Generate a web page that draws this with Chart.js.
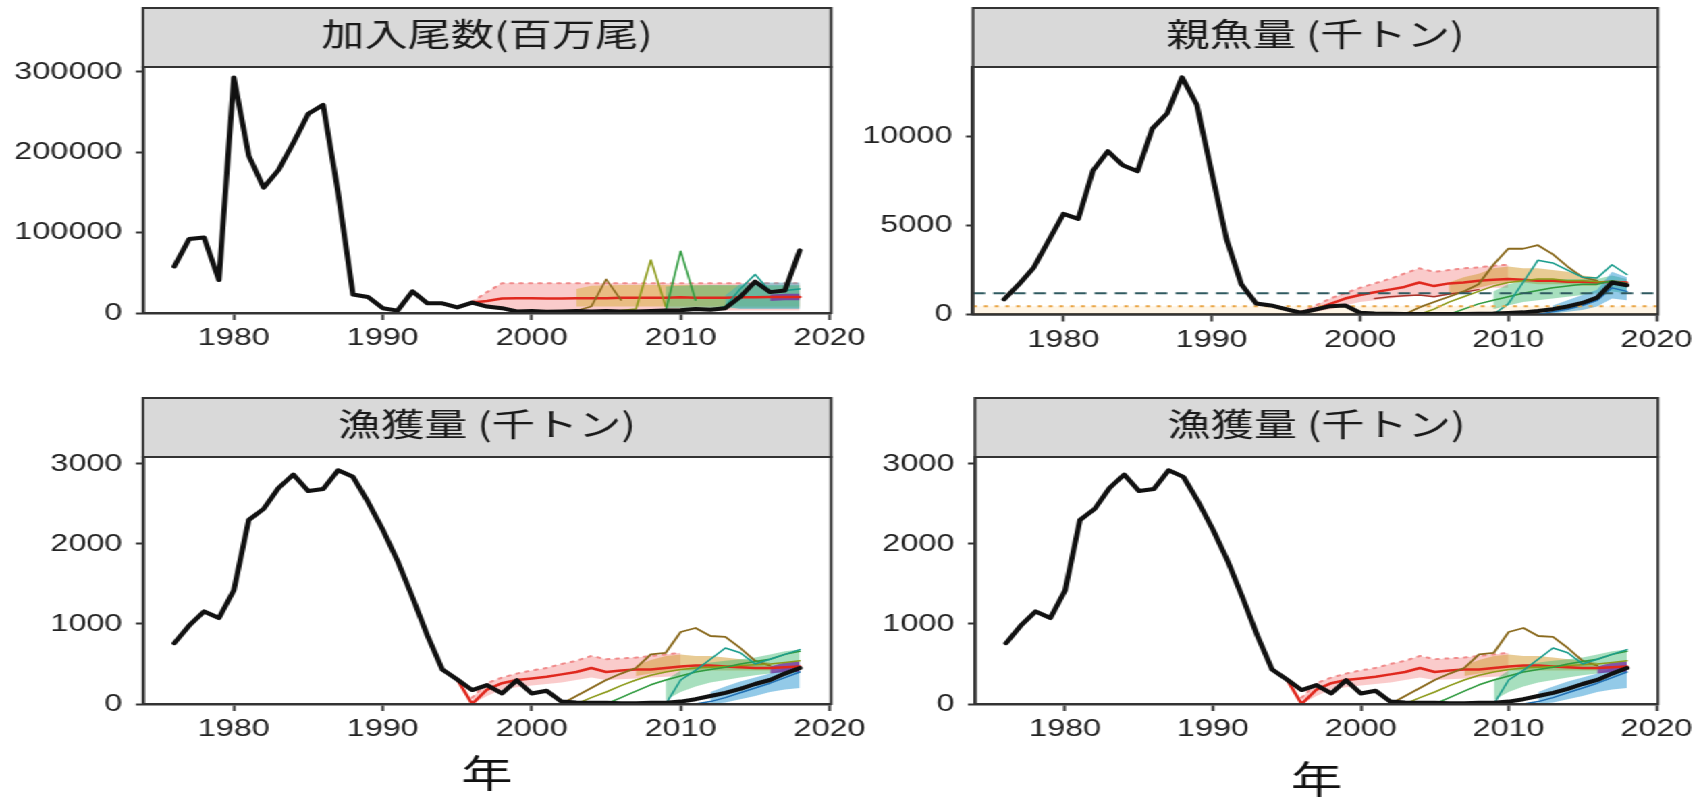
<!DOCTYPE html>
<html><head><meta charset="utf-8">
<script src="https://cdn.jsdelivr.net/npm/chart.js@4.4.1/dist/chart.umd.min.js"></script>
<style>
html,body{margin:0;padding:0;background:#fff;overflow:hidden;}
#wrap{position:absolute;left:0;top:0;width:1262px;height:798px;transform:scaleX(1.35);transform-origin:0 0;}
canvas{position:absolute;}
</style></head><body>
<div id="wrap">
<canvas id="c1" width="660" height="390" style="left:0px;top:0px;width:660px;height:390px"></canvas>
<canvas id="c2" width="641" height="390" style="left:620px;top:0px;width:641px;height:390px"></canvas>
<canvas id="c3" width="660" height="408" style="left:0px;top:390px;width:660px;height:408px"></canvas>
<canvas id="c4" width="641" height="408" style="left:620px;top:390px;width:641px;height:408px"></canvas>
</div>
<script>
// ---------- data ----------
const years = [1976,1977,1978,1979,1980,1981,1982,1983,1984,1985,1986,1987,1988,1989,1990,1991,1992,1993,1994,1995,1996,1997,1998,1999,2000,2001,2002,2003,2004,2005,2006,2007,2008,2009,2010,2011,2012,2013,2014,2015,2016,2017,2018];
const recruitment = [58000,92000,94000,41000,293000,196000,156000,178000,212000,248000,259000,150000,23000,20000,6000,3000,27000,12000,12000,7000,13000,8000,6000,2000,2500,1500,2000,2500,2000,2500,2000,2000,2500,3000,3500,5000,4000,6000,20000,39000,26000,28000,78000];
const ssb = [850,1700,2640,4150,5660,5380,8110,9190,8400,8060,10470,11320,13350,11800,8000,4250,1700,620,510,300,100,280,470,510,100,60,40,30,30,30,30,30,40,50,80,120,200,300,450,650,950,1800,1650];
const catchData = [760,980,1157,1074,1421,2300,2438,2700,2868,2661,2686,2921,2839,2529,2178,1785,1331,855,430,306,174,236,132,298,132,165,30,20,15,15,10,10,15,15,30,60,100,140,190,250,300,380,450];

const panelTitles = ['加入尾数(百万尾)', '親魚量 (千トン)', '漁獲量 (千トン)', '漁獲量 (千トン)'];
const xAxisTitle = '年';
const xTicks = [1980,1990,2000,2010,2020];
const recTicks = [0,100000,200000,300000];
const ssbTicks = [0,5000,10000];
const catchTicks = [0,1000,2000,3000];

// recruitment projections
const recRedYears = [1996,1997,1998,1999,2000,2001,2002,2003,2004,2005,2006,2007,2008,2009,2010,2011,2012,2013,2014,2015,2016,2017,2018];
const recRed = [13000,15000,18000,18500,18500,18000,18000,18500,18500,18500,19000,19000,19000,19000,19500,19000,19000,19000,19500,19500,20000,20000,20000];
const recPinkYears = [1996,1997,1998,1999,2018];
const recPinkLo = [12000,6000,4000,3000,3000];
const recPinkHi = [14000,26000,37000,37000,37000];
const recOrangeYears = [2003,2004,2006,2010,2014,2018];
const recOrangeLo = [8000,8000,8000,8000,8000,8000];
const recOrangeHi = [30000,34000,35000,35000,34000,34000];
const recGreenYears = [2009,2010,2012,2015,2018];
const recGreenLo = [6000,6000,6000,6000,6000];
const recGreenHi = [33000,34000,35000,35000,35000];
const recTealYears = [2013,2014,2015,2016,2017,2018];
const recTealLo = [8000,5000,5000,5000,5000,5000];
const recTealHi = [22000,36000,38000,38000,38000,38000];
const recPurpleYears = [2016,2017,2018];
const recPurpleLo = [15000,16000,16000];
const recPurpleHi = [23000,24000,24000];
const recBrownYears = [2002,2003,2004,2005,2006];
const recBrown = [2000,3000,8000,42000,16000];
const recOliveYears = [2006,2007,2008,2009];
const recOlive = [3000,5000,66000,8000];
const recGreenLineYears = [2008,2009,2010,2011];
const recGreenLine = [2500,3000,77000,16000];
const recTealLineYears = [2012,2013,2014,2015,2016,2017,2018];
const recTealLine = [4000,8000,30000,48000,27000,28000,30000];

// SSB projections
const ssbRedYears = [1995,1996,1997,1998,1999,2000,2001,2002,2003,2004,2005,2006,2007,2008,2009,2010,2011,2012,2013,2014,2015,2016,2017,2018];
const ssbRed = [300,100,300,600,900,1100,1250,1400,1550,1800,1600,1750,1800,1900,1950,2000,1950,1900,1900,1850,1850,1800,1850,1800];
const ssbPinkYears = [1996,1997,1998,1999,2000,2001,2002,2003,2004,2005,2006,2007,2008,2009,2010];
const ssbPinkLo = [100,150,300,500,700,800,900,1000,1100,1000,1100,1300,1400,1500,1500];
const ssbPinkHi = [150,500,900,1200,1500,1750,2000,2300,2600,2400,2500,2600,2650,2750,2800];
const ssbDarkRedYears = [2001,2002,2003,2004,2005,2006,2007,2008];
const ssbDarkRed = [900,1000,1050,1100,1000,1150,1250,1400];
const ssbOrangeYears = [2006,2007,2008,2009,2010,2011,2012,2013,2014,2015,2016];
const ssbOrangeLo = [1100,1300,1500,1700,1800,1800,1700,1700,1700,1600,1600];
const ssbOrangeHi = [1800,2100,2300,2600,2700,2600,2600,2500,2400,2200,2100];
const ssbBrownYears = [2003,2004,2005,2006,2007,2008,2009,2010,2011,2012,2013,2014,2015,2016];
const ssbBrown = [0,400,700,1000,1300,1700,2800,3700,3700,3900,3400,2700,2100,1900];
const ssbOliveYears = [2004,2005,2006,2007,2008,2009,2010,2011,2012,2013,2014,2015,2016,2017,2018];
const ssbOlive = [0,300,700,1000,1300,1600,1800,1900,2000,2000,1900,1900,1850,1800,1700];
const ssbGreenYears = [2006,2007,2008,2009,2010,2011,2012,2013,2014,2015,2016,2017,2018];
const ssbGreen = [0,300,600,800,1000,1200,1350,1500,1600,1700,1700,1900,1750];
const ssbGreenBandYears = [2009,2010,2011,2012,2013,2014,2015,2016,2017,2018];
const ssbGreenLo = [300,500,700,800,900,1000,1100,1200,1300,1200];
const ssbGreenHi = [1300,1700,1900,2000,2000,2000,2000,2000,2200,2000];
const ssbTealYears = [2009,2010,2011,2012,2013,2014,2015,2016,2017,2018];
const ssbTeal = [0,600,1800,3050,2900,2500,2100,2050,2800,2250];
const ssbBlueYears = [2012,2013,2014,2015,2016,2017,2018];
const ssbBlue = [0,150,300,500,800,1500,1300];
const ssbBlueBandYears = [2013,2014,2015,2016,2017,2018];
const ssbBlueLo = [50,150,250,450,900,800];
const ssbBlueHi = [500,800,1100,1400,2400,2100];
const ssbTarget = 1190;
const ssbLimit = 470;

// catch projections
const catchRedYears = [1995,1996,1997,1998,1999,2000,2001,2002,2003,2004,2005,2006,2007,2008,2009,2010,2011,2012,2013,2014,2015,2016,2017,2018];
const catchRed = [306,0,180,260,300,320,340,370,400,450,400,420,430,430,450,470,480,480,470,460,450,450,460,470];
const catchPinkYears = [1996,1997,1998,1999,2000,2001,2002,2003,2004,2005,2006,2007,2008,2009,2010];
const catchPinkLo = [0,100,180,210,230,250,270,300,330,300,310,320,330,340,350];
const catchPinkHi = [80,260,330,380,420,450,500,540,600,560,570,580,600,620,640];
const catchBrownYears = [2002,2003,2004,2005,2006,2007,2008,2009,2010,2011,2012,2013,2014,2015,2016];
const catchBrown = [0,100,200,300,380,450,620,640,900,950,850,840,700,540,480];
const catchOrangeYears = [2007,2008,2009,2010,2011,2012,2013,2014,2015,2016];
const catchOrangeLo = [350,380,400,420,420,420,420,420,420,420];
const catchOrangeHi = [480,550,600,620,600,600,580,560,540,520];
const catchOliveYears = [2003,2004,2005,2006,2007,2008,2009,2010,2011,2012,2013,2014,2015,2016,2017,2018];
const catchOlive = [0,80,150,230,300,360,400,430,450,460,470,480,490,500,520,540];
const catchGreenYears = [2005,2006,2007,2008,2009,2010,2011,2012,2013,2014,2015,2016,2017,2018];
const catchGreen = [0,80,160,240,300,350,400,430,460,500,530,560,620,660];
const catchGreenBandYears = [2009,2010,2011,2012,2013,2014,2015,2016,2017,2018];
const catchGreenLo = [50,150,220,270,300,330,360,380,400,380];
const catchGreenHi = [300,420,480,520,540,560,580,620,660,680];
const catchTealYears = [2009,2010,2011,2012,2013,2014,2015,2016,2017,2018];
const catchTeal = [0,300,420,560,700,640,500,560,620,680];
const catchBlueYears = [2011,2012,2013,2014,2015,2016,2017,2018];
const catchBlue = [0,30,80,140,200,260,330,400];
const catchBlueBandYears = [2012,2013,2014,2015,2016,2017,2018];
const catchBlueLo = [0,20,60,100,150,180,200];
const catchBlueHi = [150,220,280,330,380,450,500];
const catchPurpleYears = [2016,2017,2018];
const catchPurpleLo = [380,400,400];
const catchPurpleHi = [470,520,530];

// ---------- helpers ----------
const X_MIN = 1973.9, X_MAX = 2020.1;
const CJK = '"Noto Sans CJK JP", "Noto Sans CJK SC", sans-serif';
const LAT = '"Liberation Sans", Arial, sans-serif';
const C = {
  black:'#111111', red:'#E0281E', pinkFill:'rgba(245,140,140,0.45)', pinkLine:'#F08A8A',
  darkRed:'#A8322A', brown:'#8A6A1E', orangeFill:'rgba(214,160,60,0.55)', olive:'#8C9A1A',
  green:'#2E9A3E', greenFill:'rgba(60,185,110,0.45)', teal:'#1A9C8C', blue:'#1F6FB4',
  blueFill:'rgba(40,150,210,0.5)', purpleFill:'rgba(120,40,160,0.75)',
  refDash:'#2F5A60', refDot:'#E9A545', refFill:'rgba(255,215,150,0.25)'
};

function series(xs, ys, color, width, opts) {
  return Object.assign({
    data: xs.map((x, i) => ({x: x, y: ys[i]})),
    borderColor: color, borderWidth: width, pointRadius: 0, tension: 0, fill: false,
    borderCapStyle: 'round', borderJoinStyle: 'round', order: 1
  }, opts || {});
}
function band(xs, lo, hi, color, order, hiOpts) {
  return [
    series(xs, lo, 'rgba(0,0,0,0)', 1, {order: order}),
    series(xs, hi, 'rgba(0,0,0,0)', 1, Object.assign({order: order, fill: '-1', backgroundColor: color}, hiOpts || {}))
  ];
}

const stripPlugin = {
  id: 'strip',
  beforeDraw(chart) {
    const ctx = chart.ctx, a = chart.chartArea;
    ctx.save();
    ctx.fillStyle = '#D9D9D9';
    ctx.fillRect(a.left, 8, a.right - a.left, a.top - 8);
    ctx.strokeStyle = '#333'; ctx.lineWidth = 2;
    ctx.strokeRect(a.left, 8, a.right - a.left, a.top - 8);
    ctx.restore();
  },
  afterDatasetsDraw(chart) {
    const ctx = chart.ctx, a = chart.chartArea;
    ctx.save();
    ctx.strokeStyle = '#333'; ctx.lineWidth = 2;
    ctx.strokeRect(a.left, a.top, a.right - a.left, a.bottom - a.top);
    ctx.restore();
  }
};

function makeChart(id, p) {
  new Chart(document.getElementById(id), {
    type: 'line',
    data: { datasets: p.datasets },
    plugins: [stripPlugin],
    options: {
      responsive: false, animation: false, devicePixelRatio: 1,
      layout: { padding: { left: 0, right: p.padRight, top: 0, bottom: 0 } },
      plugins: {
        legend: { display: false }, tooltip: { enabled: false },
        title: { display: true, text: p.title, fullSize: false, color: '#1a1a1a',
          font: { family: CJK, size: 32, weight: 'normal', lineHeight: 1.2 },
          padding: { top: 15, bottom: 13.6 } }
      },
      scales: {
        x: {
          type: 'linear', min: X_MIN, max: X_MAX,
          afterBuildTicks: s => { s.ticks = xTicks.map(v => ({value: v})); },
          afterFit: s => { s.height = p.xHeight; },
          ticks: { callback: v => String(v), font: { family: LAT, size: 24 }, color: '#222', padding: 4, maxRotation: 0, autoSkip: false },
          grid: { display: true, drawOnChartArea: false, drawTicks: true, tickLength: 7, tickWidth: 2, tickColor: '#333' },
          border: { display: true, color: '#333', width: 2.5 },
          title: p.xTitle ? { display: true, text: xAxisTitle, color: '#111',
            font: { family: CJK, size: 38, lineHeight: 1 }, padding: { top: 0, bottom: p.xTitlePad } } : { display: false }
        },
        y: {
          min: 0, max: p.yMax,
          afterBuildTicks: s => { s.ticks = p.yTicks.map(v => ({value: v})); },
          afterFit: s => { s.width = p.yWidth; },
          ticks: { callback: v => String(v), font: { family: LAT, size: 24 }, color: '#222', padding: 10 },
          grid: { display: true, drawOnChartArea: false, drawTicks: true, tickLength: 5.2, tickWidth: 2, tickColor: '#333' },
          border: { display: true, color: '#333', width: 2.5 }
        }
      }
    }
  });
}

// ---------- datasets ----------
function recDatasets() {
  return [
    series(years, recruitment, C.black, 4, {order: 0}),
    series(recTealLineYears, recTealLine, C.teal, 1.5, {order: 1}),
    series(recGreenLineYears, recGreenLine, C.green, 1.5, {order: 2}),
    series(recOliveYears, recOlive, C.olive, 1.5, {order: 2}),
    series(recBrownYears, recBrown, C.brown, 1.5, {order: 2}),
    series(recRedYears, recRed, C.red, 2.5, {order: 3}),
    ...band(recPurpleYears, recPurpleLo, recPurpleHi, C.purpleFill, 5),
    ...band(recTealYears, recTealLo, recTealHi, 'rgba(40,175,205,0.42)', 6),
    ...band(recGreenYears, recGreenLo, recGreenHi, C.greenFill, 7),
    ...band(recOrangeYears, recOrangeLo, recOrangeHi, 'rgba(215,175,60,0.5)', 8),
    ...band(recPinkYears, recPinkLo, recPinkHi, C.pinkFill, 9, {borderColor: C.pinkLine, borderWidth: 2, borderDash: [2, 5]})
  ];
}
function ssbDatasets() {
  return [
    series(years, ssb, C.black, 4, {order: 0}),
    series([X_MIN, X_MAX], [ssbTarget, ssbTarget], C.refDash, 2, {order: 0.5, borderDash: [9, 6], borderCapStyle: 'butt'}),
    series([X_MIN, X_MAX], [ssbLimit, ssbLimit], C.refDot, 2, {order: 0.5, borderDash: [3, 5], borderCapStyle: 'butt'}),
    series(ssbBlueYears, ssbBlue, C.blue, 1.5, {order: 1}),
    series(ssbTealYears, ssbTeal, C.teal, 1.5, {order: 1}),
    series(ssbGreenYears, ssbGreen, C.green, 1.5, {order: 2}),
    series(ssbOliveYears, ssbOlive, C.olive, 1.5, {order: 2}),
    series(ssbBrownYears, ssbBrown, C.brown, 1.8, {order: 2}),
    series(ssbDarkRedYears, ssbDarkRed, C.darkRed, 1.5, {order: 3}),
    series(ssbRedYears, ssbRed, C.red, 2.5, {order: 3}),
    ...band(ssbBlueBandYears, ssbBlueLo, ssbBlueHi, C.blueFill, 6),
    ...band(ssbGreenBandYears, ssbGreenLo, ssbGreenHi, C.greenFill, 7),
    ...band(ssbOrangeYears, ssbOrangeLo, ssbOrangeHi, C.orangeFill, 8),
    ...band(ssbPinkYears, ssbPinkLo, ssbPinkHi, C.pinkFill, 9, {borderColor: C.pinkLine, borderWidth: 2, borderDash: [2, 5]}),
    ...band([X_MIN, X_MAX], [0, 0], [ssbLimit, ssbLimit], C.refFill, 20)
  ];
}
function catchDatasets() {
  return [
    series(years, catchData, C.black, 4, {order: 0}),
    series(catchBlueYears, catchBlue, C.blue, 1.5, {order: 1}),
    series(catchTealYears, catchTeal, C.teal, 1.5, {order: 1}),
    series(catchGreenYears, catchGreen, C.green, 1.5, {order: 2}),
    series(catchOliveYears, catchOlive, C.olive, 1.5, {order: 2}),
    series(catchBrownYears, catchBrown, C.brown, 1.8, {order: 2}),
    series(catchRedYears, catchRed, C.red, 2.5, {order: 3}),
    ...band(catchPurpleYears, catchPurpleLo, catchPurpleHi, C.purpleFill, 5),
    ...band(catchBlueBandYears, catchBlueLo, catchBlueHi, C.blueFill, 6),
    ...band(catchGreenBandYears, catchGreenLo, catchGreenHi, C.greenFill, 7),
    ...band(catchOrangeYears, catchOrangeLo, catchOrangeHi, C.orangeFill, 8),
    ...band(catchPinkYears, catchPinkLo, catchPinkHi, C.pinkFill, 9, {borderColor: C.pinkLine, borderWidth: 2, borderDash: [2, 5]})
  ];
}

makeChart('c1', { title: panelTitles[0], datasets: recDatasets(), yMax: 306200, yTicks: recTicks, yWidth: 105.9, padRight: 44.4, xHeight: 77 });
makeChart('c2', { title: panelTitles[1], datasets: ssbDatasets(), yMax: 13930, yTicks: ssbTicks, yWidth: 100.7, padRight: 32.9, xHeight: 75.5 });
makeChart('c3', { title: panelTitles[2], datasets: catchDatasets(), yMax: 3087, yTicks: catchTicks, yWidth: 105.9, padRight: 44.4, xHeight: 94, xTitle: true, xTitlePad: 6 });
makeChart('c4', { title: panelTitles[3], datasets: catchDatasets(), yMax: 3087, yTicks: catchTicks, yWidth: 102.2, padRight: 32.9, xHeight: 94, xTitle: true, xTitlePad: 0 });
</script>
</body></html>
